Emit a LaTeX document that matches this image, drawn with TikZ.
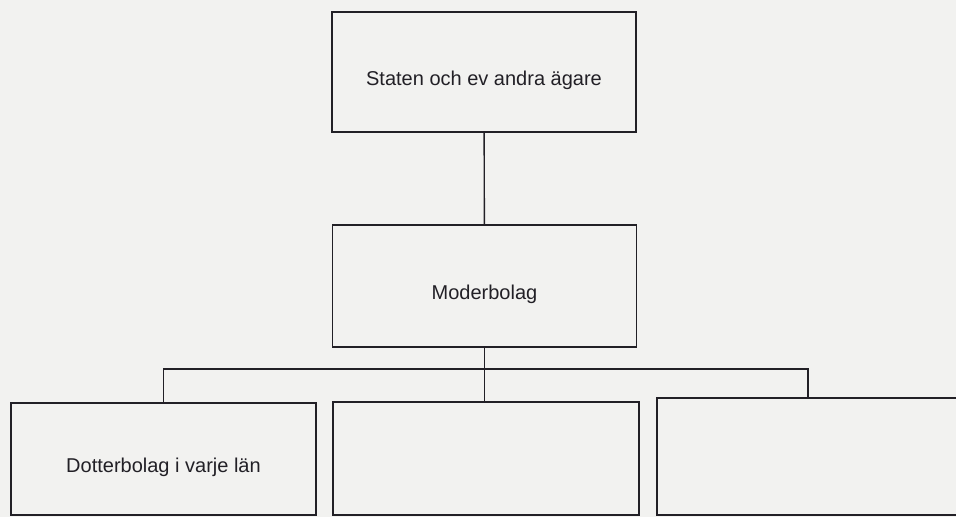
\documentclass[tikz,border=0pt]{standalone}
\usepackage{fontspec}
\setmainfont{Liberation Sans}
\usepackage{xcolor}
\usepackage{tikz}
\usetikzlibrary{positioning}
\definecolor{PaperGray}{RGB}{242, 242, 240}
\definecolor{InkBlack}{RGB}{34, 32, 38}
\tikzset{
    orgbox/.style={rectangle, draw=InkBlack, line width=1.4pt, minimum width=304pt,
        text=InkBlack, font=\fontsize{20}{24}\selectfont, text height=26pt, text depth=0pt},
    orgline/.style={draw=InkBlack, line width=1.4pt}
}

\begin{document}
\begin{tikzpicture}[x=1pt, y=-1pt]
    \useasboundingbox (0,0) rectangle (956,517);
    \fill[PaperGray] (0,0) rectangle (956,517);
    \clip (0,0) rectangle (956,517);
    % owners and parent company
    \node[orgbox, minimum height=120pt] (staten) at (484,72) {Staten och ev andra ägare};
    \node[orgbox, minimum height=122pt] (moder) at (484.5,286) {Moderbolag};
    % subsidiaries, cut off at the bottom of the page
    \node[orgbox, minimum width=305pt, minimum height=112pt] (dotter1) at (163.5,459) {Dotterbolag i varje län};
    \node[orgbox, minimum width=306pt, minimum height=113pt] (dotter2) at (486,458.5) {};
    \node[orgbox, minimum width=310pt, minimum height=117pt] (dotter3) at (812,456.5) {};
    \coordinate (bus) at (484.5,369);
    \draw[orgline] (staten) -- (moder);
    \draw[orgline] (moder.south) -- (moder.south |- dotter2.north);
    \draw[orgline] (dotter1.north) |- (bus) -| ([xshift=-4pt]dotter3.north);
\end{tikzpicture}
\end{document}
